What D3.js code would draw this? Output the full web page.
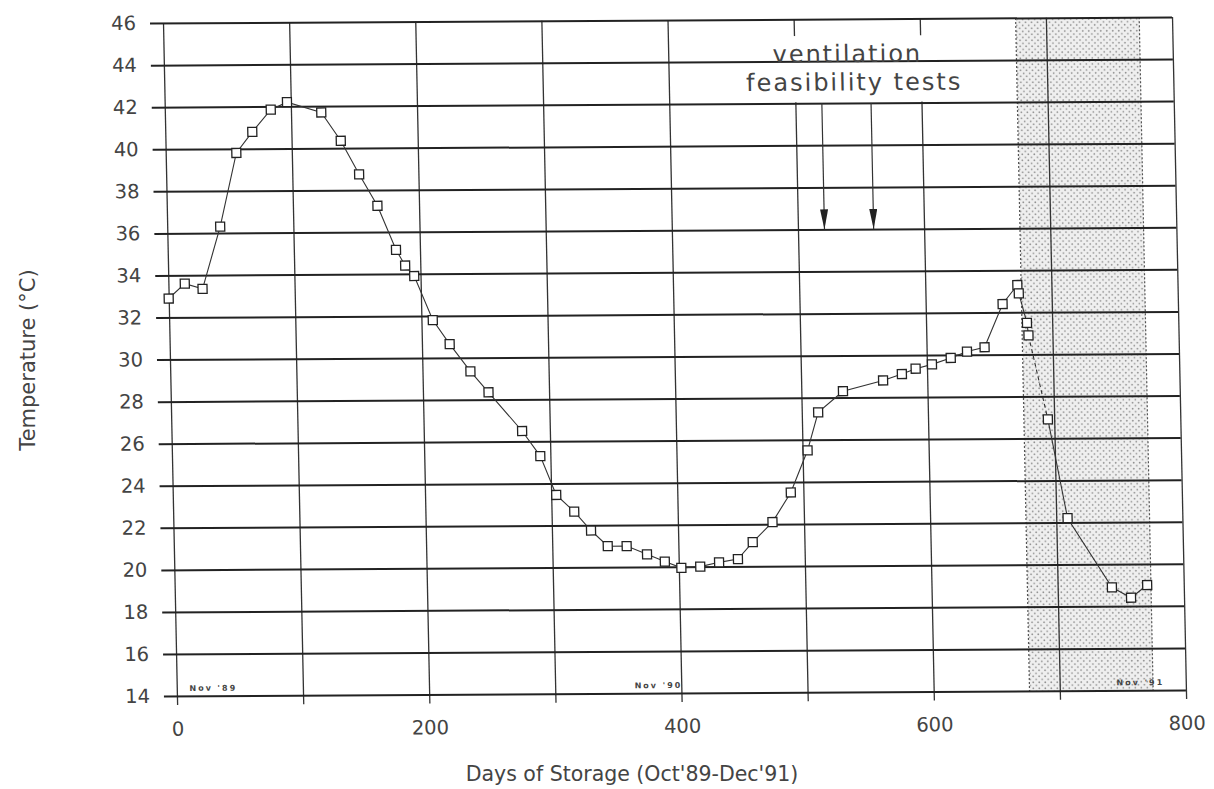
<!DOCTYPE html>
<meta charset="utf-8">
<style>
  body { margin: 0; background: #fff; }
  svg text { font-family: "DejaVu Sans", sans-serif; fill: #444; }
</style>
<svg width="1214" height="789"></svg>
<script src="https://cdn.jsdelivr.net/npm/d3@7"></script>
<script>

// storage day and temperature (C) of each reading
var days = [0, 13, 27, 42, 56, 69, 84, 97, 124, 139, 153, 167, 181, 188, 195,
            209, 222, 238, 252, 278, 292, 304, 318, 331, 344, 359, 375, 389, 402, 417,
            432, 447, 459, 475, 490, 504, 513, 533, 565, 580, 591, 604, 619, 632, 646,
            661, 673, 674, 680, 681, 695, 709, 743, 758, 771];
var temps = [32.9, 33.6, 33.35, 36.3, 39.8, 40.8, 41.85, 42.2, 41.7, 40.35, 38.75, 37.25, 35.15, 34.4, 33.9,
             31.8, 30.65, 29.35, 28.35, 26.5, 25.3, 23.45, 22.65, 21.75, 21.0, 21.0, 20.6, 20.25, 19.95, 20.0,
             20.2, 20.35, 21.15, 22.1, 23.5, 25.5, 27.3, 28.3, 28.8, 29.1, 29.35, 29.55, 29.85, 30.15, 30.35,
             32.4, 33.3, 32.9, 31.5, 30.9, 26.9, 22.2, 18.9, 18.4, 19.0];

var xTicks = [0, 100, 200, 300, 400, 500, 600, 700, 800];
var xLabels = [0, 200, 400, 600, 800];
var yTicks = [14, 16, 18, 20, 22, 24, 26, 28, 30, 32, 34, 36, 38, 40, 42, 44, 46];

var shadeDays = [676, 774];
var arrowDays = [521, 560];
var arrowTemps = [42, 36];
var noteLines = ["ventilation", "feasibility tests"];
var noteDays = [542, 547];
var noteTemps = [43.95, 42.6];
var monthLabels = ["Nov '89", "Nov '90", "Nov '91"];
var monthDays = [10, 363, 745];

var svg = d3.select("svg"),
    W = 1009,
    H = 673;

// the scanned page is slightly skewed
var g = svg.append("g")
    .attr("transform", "matrix(1,-0.006,0.0207,1,163,23)");

var x = d3.scaleLinear().domain([0, 800]).range([0, W]);
var y = d3.scaleLinear().domain([14, 46]).range([H, 0]);

var defs = svg.append("defs");
var pat = defs.append("pattern")
    .attr("id", "dots")
    .attr("patternUnits", "userSpaceOnUse")
    .attr("width", 6)
    .attr("height", 6);
pat.append("rect").attr("width", 6).attr("height", 6).attr("fill", "#efefef");
pat.append("circle").attr("cx", 1.5).attr("cy", 1.5).attr("r", 0.85).attr("fill", "#8f8f8f");
pat.append("circle").attr("cx", 4.5).attr("cy", 4.5).attr("r", 0.85).attr("fill", "#8f8f8f");

// shaded period
g.append("rect")
    .attr("x", x(shadeDays[0]))
    .attr("width", x(shadeDays[1]) - x(shadeDays[0]))
    .attr("y", 0)
    .attr("height", H)
    .attr("fill", "url(#dots)");

g.selectAll(".shadeEdge")
    .data(shadeDays)
    .enter().append("line")
      .attr("x1", x).attr("x2", x)
      .attr("y1", 0).attr("y2", H)
      .attr("stroke", "#555")
      .attr("stroke-width", 1.2)
      .attr("stroke-dasharray", "2,2");

// vertical grid + x axis
var xAxis = g.append("g")
    .attr("transform", "translate(0," + (H + 9) + ")")
    .call(d3.axisBottom(x)
        .tickValues(xTicks)
        .tickSize(-(H + 9))
        .tickPadding(17)
        .tickFormat(function(d) { return xLabels.indexOf(d) >= 0 ? d : ""; }));
xAxis.select(".domain").remove();
xAxis.selectAll("line").attr("stroke", "#333").attr("stroke-width", 1.3);
xAxis.selectAll("text").style("font-size", "19.5px").attr("fill", "#444");

// white box behind the note
g.append("rect")
    .attr("x", x(462))
    .attr("width", x(636) - x(462))
    .attr("y", y(45.2))
    .attr("height", y(42) - y(45.2) - 1)
    .attr("fill", "#fff");

// horizontal grid + y axis
var yAxis = g.append("g")
    .attr("transform", "translate(-13,0)")
    .call(d3.axisLeft(y)
        .tickValues(yTicks)
        .tickSize(-(W + 13))
        .tickPadding(14));
yAxis.select(".domain").remove();
yAxis.selectAll("line").attr("stroke", "#222").attr("stroke-width", 2);
yAxis.selectAll("text").style("font-size", "19.5px").attr("fill", "#444");

// readings
var pts = days.map(function(d, i) { return [d, temps[i]]; });
var line = d3.line()
    .x(function(d) { return x(d[0]); })
    .y(function(d) { return y(d[1]); });

g.append("path")
    .attr("d", line(pts.slice(0, 50)))
    .attr("fill", "none").attr("stroke", "#333").attr("stroke-width", 1.1);
g.append("path")
    .attr("d", line(pts.slice(49, 51)))
    .attr("fill", "none").attr("stroke", "#333").attr("stroke-width", 1.1)
    .attr("stroke-dasharray", "4,3");
g.append("path")
    .attr("d", line(pts.slice(50)))
    .attr("fill", "none").attr("stroke", "#333").attr("stroke-width", 1.1);

g.selectAll(".pt")
    .data(pts)
    .enter().append("rect")
      .attr("x", function(d) { return x(d[0]) - 4.5; })
      .attr("y", function(d) { return y(d[1]) - 4.5; })
      .attr("width", 9)
      .attr("height", 9)
      .attr("fill", "#fff")
      .attr("stroke", "#222")
      .attr("stroke-width", 1.3);

// ventilation test arrows
defs.append("marker")
    .attr("id", "head")
    .attr("viewBox", "0 0 20 8")
    .attr("refX", 20).attr("refY", 4)
    .attr("markerWidth", 20).attr("markerHeight", 8)
    .attr("markerUnits", "userSpaceOnUse")
    .attr("orient", "auto")
  .append("path")
    .attr("d", "M0,0L20,4L0,8Z")
    .attr("fill", "#222");

g.selectAll(".arrow")
    .data(arrowDays)
    .enter().append("line")
      .attr("x1", x).attr("x2", x)
      .attr("y1", y(arrowTemps[0]))
      .attr("y2", y(arrowTemps[1]))
      .attr("stroke", "#333")
      .attr("stroke-width", 1.2)
      .attr("marker-end", "url(#head)");

g.selectAll(".note")
    .data(noteLines)
    .enter().append("text")
      .attr("x", function(d, i) { return x(noteDays[i]); })
      .attr("y", function(d, i) { return y(noteTemps[i]); })
      .attr("text-anchor", "middle")
      .style("font-size", "24px")
      .style("letter-spacing", "2px")
      .text(function(d) { return d; });

g.selectAll(".month")
    .data(monthLabels)
    .enter().append("text")
      .attr("x", function(d, i) { return x(monthDays[i]); })
      .attr("y", H - 5)
      .style("font-size", "8px")
      .style("letter-spacing", "2px")
      .style("font-weight", "bold")
      .text(function(d) { return d; });

// axis titles
svg.append("text")
    .attr("x", 632)
    .attr("y", 781)
    .attr("text-anchor", "middle")
    .style("font-size", "20.5px")
    .text("Days of Storage (Oct'89-Dec'91)");

svg.append("text")
    .attr("transform", "translate(35,360)rotate(-90)")
    .attr("text-anchor", "middle")
    .style("font-size", "21px")
    .text("Temperature (°C)");

</script>
